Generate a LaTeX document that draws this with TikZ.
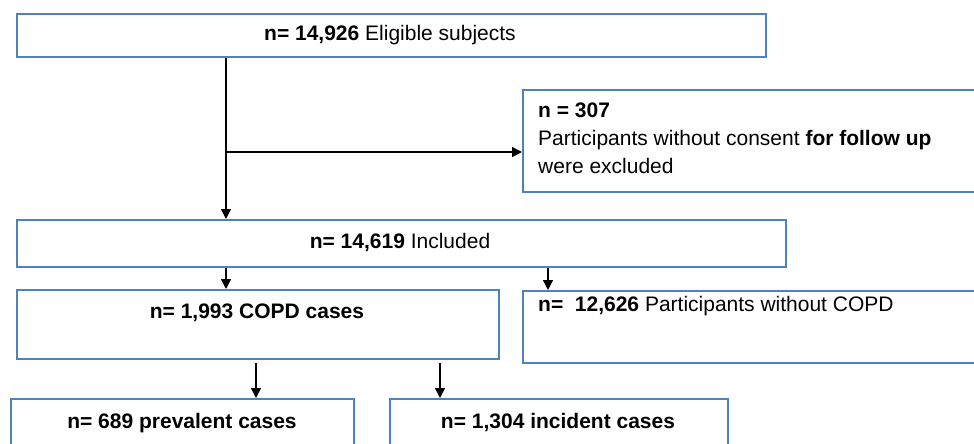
\documentclass[tikz,border=0pt]{standalone}
\usepackage{fontspec}
\setmainfont{Liberation Sans}
\usetikzlibrary{arrows.meta}
\definecolor{boxblue}{HTML}{4F81BD}
\begin{document}
\begin{tikzpicture}[x=1pt,y=-1pt,
  box/.style={draw=boxblue, line width=2.4pt, fill=white, inner sep=0pt, anchor=north west, rectangle},
  lbl/.style={inner sep=0pt, font=\fontsize{21}{28}\selectfont},
  arr/.style={draw=black, line width=1.4pt, -{Triangle[length=10pt,width=10pt]}}]
\useasboundingbox (0,0) rectangle (974,444);
% boxes
\node[box, minimum width=749pt, minimum height=43pt] (top) at (16,13) {};
\node[box, minimum width=470pt, minimum height=102pt] (excl) at (522,89) {};
\node[box, minimum width=769pt, minimum height=47pt] (incl) at (16,219) {};
\node[box, minimum width=482pt, minimum height=69pt] (copd) at (16,289) {};
\node[box, minimum width=470pt, minimum height=72pt] (nocopd) at (522,290) {};
\node[box, minimum width=343pt, minimum height=70pt] (prev) at (10,398) {};
\node[box, minimum width=338pt, minimum height=70pt] (inc) at (389,398) {};
% labels
\node[lbl, anchor=base] (ttop) at (390,41) {\bfseries n= 14,926\mdseries{} Eligible subjects};
\node[lbl, anchor=base west, align=left] (texcl) at (538,173) {\bfseries n = 307\\Participants without consent \bfseries for follow up\\were excluded};
\node[lbl, anchor=base] (tincl) at (400,248) {\bfseries n= 14,619\mdseries{} Included};
\node[lbl, anchor=base] (tcopd) at (257,318) {\bfseries n= 1,993 COPD cases};
\node[lbl, anchor=base west] (tnocopd) at (538,311) {\bfseries n=\ \ 12,626\mdseries{} Participants without COPD};
\node[lbl, anchor=base] (tprev) at (182,428) {\bfseries n= 689 prevalent cases};
\node[lbl, anchor=base] (tinc) at (558,428) {\bfseries n= 1,304 incident cases};
% connectors
\coordinate (xa) at (226,0);
\coordinate (xb) at (548,0);
\coordinate (xc) at (256,0);
\coordinate (xd) at (440,0);
\coordinate (br) at (226,152);
\draw[arr] (top.south -| xa) -- (incl.north -| xa);
\draw[arr] (br) -- (excl.west |- br);
\draw[arr] (incl.south -| xa) -- (copd.north -| xa);
\draw[arr] (incl.south -| xb) -- (nocopd.north -| xb);
\draw[arr] ([yshift=-3pt]copd.south -| xc) -- (prev.north -| xc);
\draw[arr] ([yshift=-3pt]copd.south -| xd) -- (inc.north -| xd);
\end{tikzpicture}
\end{document}
